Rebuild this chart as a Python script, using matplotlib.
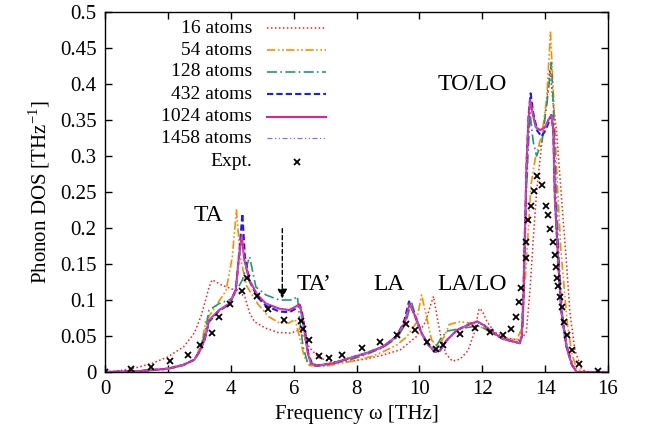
import numpy as np
import matplotlib
matplotlib.use("Agg")
import matplotlib.pyplot as plt
from matplotlib.lines import Line2D

plt.rcParams['font.family'] = ['Liberation Serif', 'DejaVu Serif']
plt.rcParams['mathtext.fontset'] = 'custom'
plt.rcParams['mathtext.rm'] = 'Liberation Serif'

# ---- data ----
freq_16 = [0, 0.5, 1.0, 1.5, 2.0, 2.5, 2.84, 3.05, 3.2, 3.31, 3.41, 3.7, 4.0, 4.3, 4.45, 4.6,
           4.75, 5.1, 5.5, 5.9, 6.1, 6.18, 6.3, 6.5, 6.8, 7.2, 7.8, 8.3, 8.8, 9.4, 9.9, 10.2,
           10.35, 10.45, 10.55, 10.7, 10.85, 11.05, 11.3, 11.55, 11.75, 11.9, 12.0, 12.15, 12.4,
           12.8, 13.2, 13.4, 13.52, 13.62, 13.73, 13.85, 13.95, 14.05, 14.15, 14.25, 14.36, 14.52,
           14.68, 14.79, 14.95, 15.15, 15.3, 16]
dos_16 = [0, 0.002, 0.006, 0.012, 0.021, 0.035, 0.054, 0.077, 0.100, 0.118, 0.128, 0.121, 0.116,
          0.110, 0.104, 0.082, 0.070, 0.061, 0.055, 0.054, 0.057, 0.061, 0.050, 0.034, 0.020,
          0.014, 0.015, 0.018, 0.023, 0.031, 0.049, 0.070, 0.092, 0.105, 0.080, 0.045, 0.025,
          0.015, 0.018, 0.030, 0.055, 0.088, 0.085, 0.070, 0.055, 0.047, 0.044, 0.055, 0.114,
          0.183, 0.251, 0.300, 0.340, 0.375, 0.420, 0.375, 0.336, 0.243, 0.151, 0.082, 0.030,
          0.005, 0, 0]

freq_54 = [0, 1.0, 2.0, 2.5, 2.9, 3.1, 3.2, 3.5, 3.85, 4.05, 4.18, 4.3, 4.5, 4.85, 5.2, 5.55,
           5.85, 6.05, 6.18, 6.34, 6.5, 7.0, 7.5, 8.0, 8.5, 8.84, 9.3, 9.6, 9.9, 10.07, 10.18,
           10.39, 10.6, 10.8, 10.95, 11.3, 11.75, 12.15, 12.6, 13.1, 13.25, 13.4, 13.55, 13.7,
           13.9, 14.05, 14.17, 14.27, 14.38, 14.5, 14.7, 14.85, 15.0, 15.2, 16]
dos_54 = [0, 0.001, 0.004, 0.009, 0.020, 0.045, 0.070, 0.090, 0.113, 0.160, 0.225, 0.160, 0.120,
          0.095, 0.077, 0.068, 0.068, 0.073, 0.050, 0.021, 0.009, 0.008, 0.012, 0.016, 0.022,
          0.028, 0.038, 0.049, 0.068, 0.107, 0.086, 0.044, 0.035, 0.050, 0.066, 0.070, 0.067,
          0.058, 0.047, 0.045, 0.060, 0.150, 0.260, 0.300, 0.330, 0.380, 0.472, 0.380, 0.270,
          0.170, 0.070, 0.025, 0.005, 0, 0]

freq_128 = [0, 1.0, 2.0, 2.5, 2.85, 3.05, 3.2, 3.31, 3.63, 4.05, 4.37, 4.6, 4.8, 5.12, 5.54,
            5.97, 6.12, 6.2, 6.3, 6.45, 6.7, 7.2, 7.8, 8.3, 8.85, 9.3, 9.55, 9.75, 9.9, 10.1,
            10.3, 10.5, 10.7, 10.9, 11.4, 11.85, 12.1, 12.6, 13.2, 13.3, 13.4, 13.52, 13.62,
            13.73, 13.9, 14.05, 14.2, 14.28, 14.35, 14.45, 14.55, 14.7, 14.9, 15.0, 16]
dos_128 = [0, 0.001, 0.005, 0.010, 0.018, 0.032, 0.060, 0.086, 0.095, 0.102, 0.128, 0.160, 0.118,
           0.107, 0.100, 0.100, 0.105, 0.070, 0.035, 0.012, 0.008, 0.011, 0.017, 0.024, 0.034,
           0.048, 0.066, 0.097, 0.075, 0.052, 0.038, 0.033, 0.048, 0.057, 0.061, 0.064, 0.060,
           0.047, 0.040, 0.070, 0.250, 0.360, 0.320, 0.300, 0.320, 0.370, 0.430, 0.350, 0.250,
           0.150, 0.080, 0.035, 0.008, 0, 0]

freq_432 = [0, 1.0, 2.0, 2.5, 2.84, 3.0, 3.17, 3.31, 3.63, 3.95, 4.16, 4.28, 4.37, 4.45, 4.6,
            4.85, 5.12, 5.54, 5.86, 6.07, 6.2, 6.27, 6.37, 6.47, 6.58, 6.75, 7.23, 7.76, 8.3,
            8.84, 9.26, 9.5, 9.67, 9.85, 10.07, 10.28, 10.5, 10.66, 10.87, 11.19, 11.62, 11.84,
            12.05, 12.37, 12.66, 13.19, 13.26, 13.31, 13.36, 13.42, 13.48, 13.54, 13.62, 13.75,
            13.89, 14.0, 14.1, 14.2, 14.26, 14.31, 14.42, 14.52, 14.68, 14.85, 15.0, 16]
dos_432 = [0, 0.001, 0.0045, 0.010, 0.017, 0.028, 0.045, 0.070, 0.085, 0.094, 0.114, 0.170, 0.220,
           0.160, 0.126, 0.104, 0.092, 0.084, 0.083, 0.088, 0.093, 0.082, 0.055, 0.025, 0.012,
           0.009, 0.012, 0.019, 0.026, 0.035, 0.049, 0.068, 0.098, 0.079, 0.054, 0.038, 0.028,
           0.030, 0.044, 0.058, 0.067, 0.070, 0.065, 0.054, 0.046, 0.040, 0.050, 0.110, 0.200,
           0.300, 0.360, 0.387, 0.360, 0.335, 0.327, 0.335, 0.345, 0.357, 0.336, 0.243, 0.151,
           0.082, 0.035, 0.010, 0, 0]

freq_1024 = [0, 1.0, 2.0, 2.5, 2.84, 3.0, 3.17, 3.31, 3.63, 3.95, 4.16, 4.26, 4.35, 4.43, 4.59,
             4.85, 5.12, 5.54, 5.86, 6.07, 6.18, 6.23, 6.34, 6.45, 6.55, 6.75, 7.23, 7.76, 8.3,
             8.84, 9.26, 9.53, 9.69, 9.85, 10.07, 10.28, 10.5, 10.66, 10.87, 11.19, 11.62, 11.84,
             12.05, 12.37, 12.66, 13.19, 13.26, 13.31, 13.36, 13.41, 13.47, 13.52, 13.6, 13.7,
             13.84, 14.0, 14.1, 14.2, 14.26, 14.31, 14.42, 14.52, 14.68, 14.85, 15.0, 16]
dos_1024 = [0, 0.001, 0.0045, 0.010, 0.017, 0.028, 0.045, 0.072, 0.086, 0.095, 0.114, 0.160, 0.190,
            0.156, 0.128, 0.107, 0.095, 0.088, 0.086, 0.091, 0.094, 0.086, 0.058, 0.026, 0.012,
            0.009, 0.012, 0.019, 0.026, 0.035, 0.049, 0.068, 0.095, 0.079, 0.054, 0.038, 0.028,
            0.030, 0.044, 0.058, 0.067, 0.070, 0.065, 0.054, 0.046, 0.040, 0.050, 0.105, 0.197,
            0.290, 0.350, 0.378, 0.360, 0.340, 0.336, 0.340, 0.350, 0.357, 0.336, 0.243, 0.151,
            0.082, 0.035, 0.010, 0, 0]

freq_1458 = [0, 1.0, 2.0, 2.5, 2.84, 3.0, 3.17, 3.31, 3.63, 3.95, 4.16, 4.26, 4.35, 4.43, 4.59,
             4.85, 5.12, 5.54, 5.86, 6.07, 6.18, 6.23, 6.34, 6.45, 6.55, 6.75, 7.23, 7.76, 8.3,
             8.84, 9.26, 9.53, 9.69, 9.85, 10.07, 10.28, 10.5, 10.66, 10.87, 11.19, 11.62, 11.84,
             12.05, 12.37, 12.66, 13.19, 13.26, 13.31, 13.36, 13.41, 13.47, 13.52, 13.6, 13.7,
             13.84, 14.0, 14.1, 14.2, 14.26, 14.31, 14.42, 14.52, 14.68, 14.85, 15.0, 16]
dos_1458 = [0, 0.001, 0.0045, 0.010, 0.017, 0.028, 0.045, 0.071, 0.086, 0.095, 0.113, 0.158, 0.187,
            0.155, 0.128, 0.107, 0.095, 0.088, 0.086, 0.090, 0.093, 0.086, 0.058, 0.026, 0.012,
            0.009, 0.012, 0.019, 0.026, 0.035, 0.049, 0.068, 0.094, 0.079, 0.054, 0.038, 0.028,
            0.030, 0.044, 0.058, 0.067, 0.069, 0.065, 0.054, 0.046, 0.040, 0.050, 0.105, 0.195,
            0.288, 0.348, 0.376, 0.358, 0.340, 0.335, 0.340, 0.349, 0.356, 0.336, 0.243, 0.151,
            0.082, 0.035, 0.010, 0, 0]

expt_freq = [0, 0.84, 1.45, 2.08, 2.64, 3.02, 3.40, 3.64, 3.98, 4.35, 4.51, 4.85, 5.20, 5.68,
             6.22, 6.29, 6.49, 6.80, 7.13, 7.55, 8.17, 8.74, 9.29, 9.59, 9.86, 10.25, 10.52,
             10.75, 11.29, 11.77, 12.25, 12.65, 12.93, 13.06, 13.17, 13.23, 13.38, 13.40, 13.47,
             13.56, 13.64, 13.73, 13.91, 14.02, 14.08, 14.16, 14.25, 14.32, 14.36, 14.39, 14.40,
             14.46, 14.54, 14.60, 14.71, 14.85, 15.07, 15.68]
expt_dos = [0, 0.004, 0.007, 0.015, 0.023, 0.037, 0.054, 0.077, 0.095, 0.113, 0.130, 0.106,
            0.088, 0.072, 0.071, 0.060, 0.045, 0.022, 0.019, 0.024, 0.033, 0.041, 0.052, 0.067,
            0.059, 0.041, 0.032, 0.037, 0.053, 0.061, 0.055, 0.051, 0.060, 0.076, 0.097, 0.116,
            0.159, 0.181, 0.211, 0.231, 0.252, 0.272, 0.260, 0.230, 0.218, 0.198, 0.181, 0.163,
            0.146, 0.131, 0.119, 0.104, 0.090, 0.070, 0.051, 0.031, 0.011, 0.002]

labels = ["16 atoms", "54 atoms", "128 atoms", "432 atoms", "1024 atoms", "1458 atoms", "Expt."]

# ---- styles ----
styles = [
    dict(color="#ff1a1a", ls=(0, (1, 1.6)), lw=1.1),
    dict(color="#ff8c00", ls=(0, (5, 1.5, 1, 1.5, 1, 1.5)), lw=1.2),
    dict(color="#1e9b6e", ls=(0, (6, 2, 1, 2)), lw=1.2),
    dict(color="#1a1aff", ls=(0, (3, 1.5)), lw=1.5),
    dict(color="#e8208f", ls="-", lw=1.5),
    dict(color="#8b6fe0", ls=(0, (4, 2, 1, 2, 1, 2)), lw=0.9),
]
series = [(freq_16, dos_16), (freq_54, dos_54), (freq_128, dos_128),
          (freq_432, dos_432), (freq_1024, dos_1024), (freq_1458, dos_1458)]

fig = plt.figure(figsize=(6.49, 4.36), dpi=100)
ax = fig.add_axes([105 / 649, 1 - 372 / 436, 503 / 649, 360 / 436])

for (fx, dy), st in zip(series, styles):
    ax.plot(fx, dy, color=st["color"], linestyle=st["ls"], linewidth=st["lw"])
ax.plot(expt_freq, expt_dos, linestyle="none", marker="x", color="black",
        markersize=4.5, markeredgewidth=1.3)

ax.set_xlim(0, 16)
ax.set_ylim(0, 0.5)
ax.set_xticks(np.arange(0, 17, 2))
ax.set_yticks(np.arange(0, 0.51, 0.05))
ax.set_yticklabels(["%g" % round(v, 2) for v in np.arange(0, 0.51, 0.05)])
ax.tick_params(direction="in", length=5, width=1, labelsize=15, top=True, right=True, pad=6)
for sp in ax.spines.values():
    sp.set_linewidth(1)

ax.set_xlabel("Frequency ω [THz]", fontsize=15, labelpad=4)
ax.set_ylabel("Phonon DOS [THz$^{\\mathregular{-1}}$]", fontsize=15, labelpad=6)

# peak labels
ax.text(3.3, 0.218, "TA", fontsize=17, ha="center", va="center")
ax.text(6.65, 0.121, "TA’", fontsize=17, ha="center", va="center")
ax.text(9.05, 0.122, "LA", fontsize=17, ha="center", va="center")
ax.text(11.68, 0.122, "LA/LO", fontsize=17, ha="center", va="center")
ax.text(11.68, 0.40, "TO/LO", fontsize=17, ha="center", va="center")

# dashed arrow
ax.annotate("", xy=(5.64, 0.098), xytext=(5.64, 0.203),
            arrowprops=dict(arrowstyle="-|>", linestyle=(0, (3, 2)), color="black",
                            lw=1, mutation_scale=14))

# gnuplot-like key: right-aligned text, sample to the right
row_y = [0.955, 0.894, 0.834, 0.771, 0.709, 0.649, 0.584]
for i, lab in enumerate(labels):
    ax.text(0.292, row_y[i], lab, transform=ax.transAxes, ha="right", va="center", fontsize=14)
    if i < len(styles):
        st = styles[i]
        ax.add_line(Line2D([0.322, 0.439], [row_y[i], row_y[i]], transform=ax.transAxes,
                           color=st["color"], linestyle=st["ls"], linewidth=st["lw"]))
    else:
        ax.plot([0.381], [row_y[i]], transform=ax.transAxes, marker="x", color="black",
                markersize=4.5, markeredgewidth=1.3, linestyle="none")

fig.savefig("out.png", dpi=100)
